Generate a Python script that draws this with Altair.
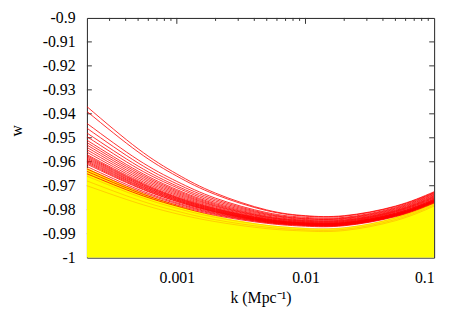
import altair as alt
import pandas as pd

# wavenumber grid (Mpc^-1)
K = [0.0002, 0.0005, 0.001, 0.002, 0.005, 0.01, 0.02, 0.05, 0.1]

# red curves: w(k) read at the K grid
RED = [
    [-0.937, -0.9546, -0.9651, -0.9731, -0.9801, -0.9825, -0.9825, -0.9785, -0.9725],
    [-0.939, -0.9559, -0.9660, -0.9737, -0.9804, -0.9827, -0.9827, -0.9787, -0.9728],
    [-0.944, -0.9592, -0.9682, -0.9752, -0.9812, -0.9832, -0.9832, -0.9791, -0.9730],
    [-0.946, -0.9605, -0.9692, -0.9758, -0.9816, -0.9836, -0.9835, -0.9794, -0.9733],
    [-0.948, -0.9618, -0.9701, -0.9764, -0.9819, -0.9838, -0.9837, -0.9797, -0.9736],
    [-0.9495, -0.9629, -0.9708, -0.9770, -0.9822, -0.9841, -0.9840, -0.9800, -0.9739],
    [-0.951, -0.9639, -0.9716, -0.9775, -0.9826, -0.9844, -0.9843, -0.9803, -0.9742],
    [-0.952, -0.9646, -0.9721, -0.9779, -0.9829, -0.9846, -0.9845, -0.9805, -0.9745],
    [-0.953, -0.9653, -0.9726, -0.9783, -0.9831, -0.9848, -0.9847, -0.9807, -0.9747],
    [-0.954, -0.9660, -0.9731, -0.9786, -0.9833, -0.9850, -0.9849, -0.9809, -0.9750],
    [-0.955, -0.9667, -0.9736, -0.9790, -0.9836, -0.9852, -0.9851, -0.9811, -0.9752],
    [-0.956, -0.9674, -0.9741, -0.9794, -0.9838, -0.9854, -0.9853, -0.9814, -0.9755],
    [-0.957, -0.9680, -0.9746, -0.9796, -0.9840, -0.9855, -0.9854, -0.9815, -0.9757],
    [-0.9575, -0.9684, -0.9749, -0.9798, -0.9841, -0.9856, -0.9855, -0.9816, -0.9758],
    [-0.958, -0.9687, -0.9751, -0.9800, -0.9842, -0.9857, -0.9856, -0.9818, -0.9760],
    [-0.9585, -0.9691, -0.9754, -0.9802, -0.9844, -0.9858, -0.9857, -0.9819, -0.9761],
    [-0.959, -0.9694, -0.9756, -0.9804, -0.9845, -0.9859, -0.9858, -0.9820, -0.9762],
    [-0.9595, -0.9698, -0.9759, -0.9806, -0.9846, -0.9860, -0.9859, -0.9821, -0.9763],
    [-0.960, -0.9701, -0.9761, -0.9808, -0.9847, -0.9861, -0.9860, -0.9822, -0.9764],
    [-0.9605, -0.9705, -0.9764, -0.9809, -0.9849, -0.9862, -0.9861, -0.9823, -0.9765],
    [-0.961, -0.9708, -0.9766, -0.9811, -0.9850, -0.9863, -0.9862, -0.9824, -0.9766],
    [-0.962, -0.9715, -0.9771, -0.9814, -0.9851, -0.9864, -0.9863, -0.9825, -0.9767],
    [-0.963, -0.9721, -0.9775, -0.9817, -0.9853, -0.9865, -0.9864, -0.9826, -0.9768],
    [-0.964, -0.9728, -0.9780, -0.9820, -0.9854, -0.9866, -0.9865, -0.9827, -0.9770],
    [-0.965, -0.9735, -0.9785, -0.9824, -0.9857, -0.9869, -0.9867, -0.9829, -0.9772],
]

# orange streaks inside the yellow band
ORANGE = [
    [-0.966, -0.9744, -0.9794, -0.9832, -0.9865, -0.9877, -0.9875, -0.9835, -0.9775],
    [-0.968, -0.9759, -0.9806, -0.9842, -0.9873, -0.9884, -0.9882, -0.9841, -0.9780],
    [-0.970, -0.9773, -0.9817, -0.9850, -0.9879, -0.9889, -0.9887, -0.9846, -0.9785],
]

# upper envelope of the yellow band
YELLOW_TOP = [-0.9625, -0.9722, -0.9780, -0.9825, -0.9863, -0.9876, -0.9874, -0.9830, -0.9762]
Y_BASE = -1.0

Y_TICKS = [-0.99, -0.98, -0.97, -0.96, -0.95, -0.94, -0.93, -0.92, -0.91]
Y_LABELS = [-1.0, -0.99, -0.98, -0.97, -0.96, -0.95, -0.94, -0.93, -0.92, -0.91, -0.9]
X_MAJOR = [0.001, 0.01]
X_MINOR = [0.0003, 0.0004, 0.0005, 0.0006, 0.0007, 0.0008, 0.0009,
           0.002, 0.003, 0.004, 0.005, 0.006, 0.007, 0.008, 0.009,
           0.02, 0.03, 0.04, 0.05, 0.06, 0.07, 0.08, 0.09]
X_LABELS = [0.001, 0.01, 0.1]

W, H = 352, 243
FONT = "Liberation Serif"

def long_form(curves, prefix):
    rows = []
    for i, c in enumerate(curves):
        for k, w in zip(K, c):
            rows.append({"k": k, "w": w, "id": f"{prefix}{i}"})
    return pd.DataFrame(rows)

red_df = long_form(RED, "r")
orange_df = long_form(ORANGE, "o")
area_df = pd.DataFrame({"k": K, "w": YELLOW_TOP, "base": [Y_BASE] * len(K)})

xscale = alt.Scale(type="log", domain=[0.0002, 0.1], nice=False)
yscale = alt.Scale(domain=[-1.0, -0.9], nice=False, zero=False)

xaxis = alt.Axis(values=X_LABELS, labelExpr="toString(datum.value)", ticks=False, domain=False,
                 grid=False, labelFont=FONT, labelFontSize=16, labelColor="black",
                 labelPadding=12, title="k (Mpc⁻¹)", titleFont=FONT, titleFontSize=16,
                 titleFontWeight="normal", titleColor="black", titlePadding=4)
yaxis = alt.Axis(values=Y_LABELS, labelExpr="toString(round(datum.value*100)/100)", ticks=False,
                 domain=False, grid=False, labelFont=FONT, labelFontSize=16, labelColor="black",
                 labelPadding=12, title="w", titleFont=FONT, titleFontSize=16,
                 titleFontWeight="normal", titleColor="black", titleX=-71, titleY=114,
                 titleAngle=-90, titleBaseline="middle", titleAlign="center")

yt_df = pd.DataFrame({"v": Y_TICKS})
xmaj_df = pd.DataFrame({"k": X_MAJOR})
xmin_df = pd.DataFrame({"k": X_MINOR})
TC = "#333333"

yt_left = alt.Chart(yt_df).mark_rule(color=TC, strokeWidth=1).encode(
    y=alt.Y("v:Q", scale=yscale, axis=yaxis), x=alt.value(0), x2=alt.value(5))
yt_right = alt.Chart(yt_df).mark_rule(color=TC, strokeWidth=1).encode(
    y=alt.Y("v:Q", scale=yscale, axis=yaxis), x=alt.value(W - 5), x2=alt.value(W))
xt_top_major = alt.Chart(xmaj_df).mark_rule(color=TC, strokeWidth=1).encode(
    x=alt.X("k:Q", scale=xscale, axis=xaxis), y=alt.value(0), y2=alt.value(6))
xt_top_minor = alt.Chart(xmin_df).mark_rule(color=TC, strokeWidth=1).encode(
    x=alt.X("k:Q", scale=xscale, axis=xaxis), y=alt.value(0), y2=alt.value(3))

area = alt.Chart(area_df).mark_area(interpolate="natural", color="#ffff00", clip=True).encode(
    x=alt.X("k:Q", scale=xscale, axis=xaxis),
    y=alt.Y("w:Q", scale=yscale, axis=yaxis),
    y2="base:Q")

orange = alt.Chart(orange_df).mark_line(interpolate="natural", color="#ff9900", strokeWidth=0.8,
                                        opacity=0.6, clip=True).encode(
    x=alt.X("k:Q", scale=xscale, axis=xaxis),
    y=alt.Y("w:Q", scale=yscale, axis=yaxis),
    detail="id:N")

red = alt.Chart(red_df).mark_line(interpolate="natural", color="#ff0000", strokeWidth=0.9,
                                  opacity=0.9, clip=True).encode(
    x=alt.X("k:Q", scale=xscale, axis=xaxis),
    y=alt.Y("w:Q", scale=yscale, axis=yaxis),
    detail="id:N")

chart = alt.layer(yt_left, yt_right, xt_top_major, xt_top_minor, area, orange, red).properties(
    width=W, height=H,
    autosize=alt.AutoSizeParams(type="none"),
    padding={"left": 80, "top": 8, "right": 10, "bottom": 50},
    background="white",
).configure_view(stroke="#222222", strokeWidth=1)

chart.save("out.html", embed_options={"renderer": "svg", "actions": False})
